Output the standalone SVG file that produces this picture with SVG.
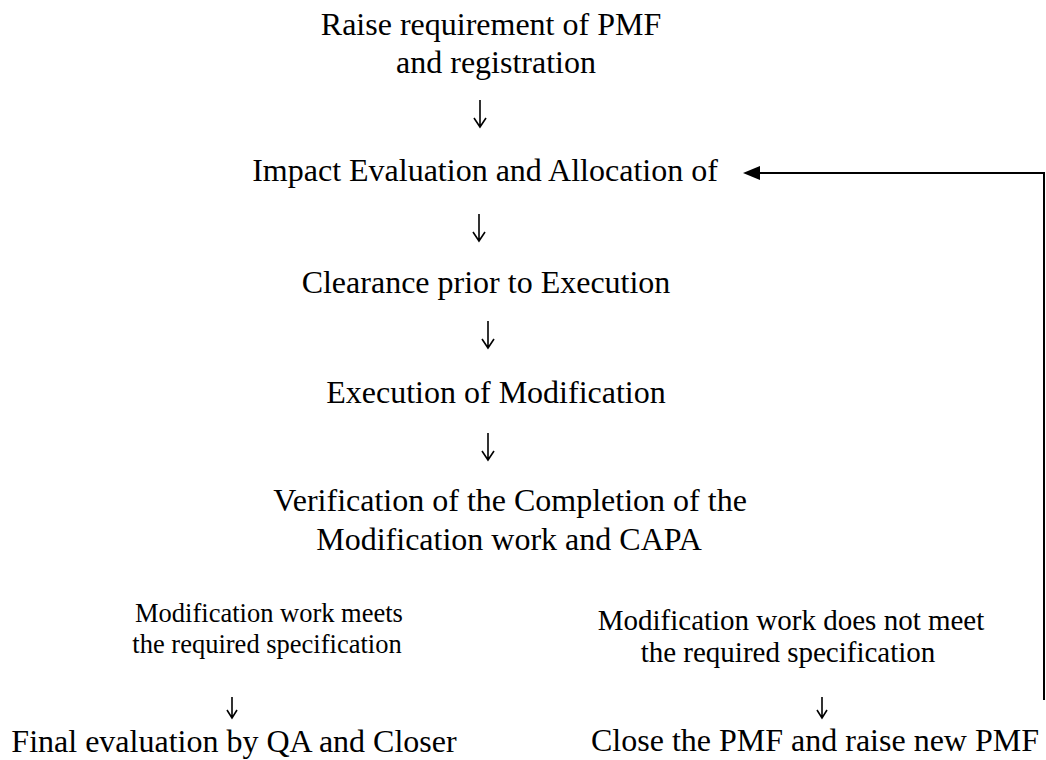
<svg xmlns="http://www.w3.org/2000/svg" width="1046" height="760" viewBox="0 0 1046 760">
<defs>
<style>
text{font-family:"Liberation Serif","Times New Roman",serif;fill:#000;text-anchor:middle}
.m{font-size:32px}
.s1{font-size:26.5px}
.s2{font-size:29px}
.dn{fill:none;stroke:#000;stroke-width:1.6}
</style>
</defs>
<rect width="1046" height="760" fill="#fff"/>
<g id="n1"><text class="m" x="491" y="35">Raise requirement of PMF</text><text class="m" x="496" y="73">and registration</text></g>
<g id="n2"><text class="m" x="485" y="181">Impact Evaluation and Allocation of</text></g>
<g id="n3"><text class="m" x="486" y="293">Clearance prior to Execution</text></g>
<g id="n4"><text class="m" x="496" y="403">Execution of Modification</text></g>
<g id="n5"><text class="m" x="510" y="511">Verification of the Completion of the</text><text class="m" x="509" y="550">Modification work and CAPA</text></g>
<g id="n6"><text class="s1" x="269" y="622">Modification work meets</text><text class="s1" x="267" y="653">the required specification</text></g>
<g id="n7"><text class="s2" x="791" y="630">Modification work does not meet</text><text class="s2" x="788" y="662">the required specification</text></g>
<g id="n8"><text class="m" x="234" y="752">Final evaluation by QA and Closer</text></g>
<g id="n9"><text class="m" x="815" y="751">Close the PMF and raise new PMF</text></g>
<g id="connectors">
<path class="dn" d="M480,100 V127 M474,118 L480,127 L486,118"/>
<path class="dn" d="M479,214 V241 M473,232 L479,241 L485,232"/>
<path class="dn" d="M488,321 V348 M482,339 L488,348 L494,339"/>
<path class="dn" d="M488,433 V460 M482,451 L488,460 L494,451"/>
<path class="dn" d="M232,697 V718 M227,710 L232,718 L237,710"/>
<path class="dn" d="M822,697 V718 M817,710 L822,718 L827,710"/>
<path d="M1044,700 V173 H758" fill="none" stroke="#000" stroke-width="2"/>
<path d="M743,173 L760,166 L760,180 Z" fill="#000"/>
</g>
</svg>
